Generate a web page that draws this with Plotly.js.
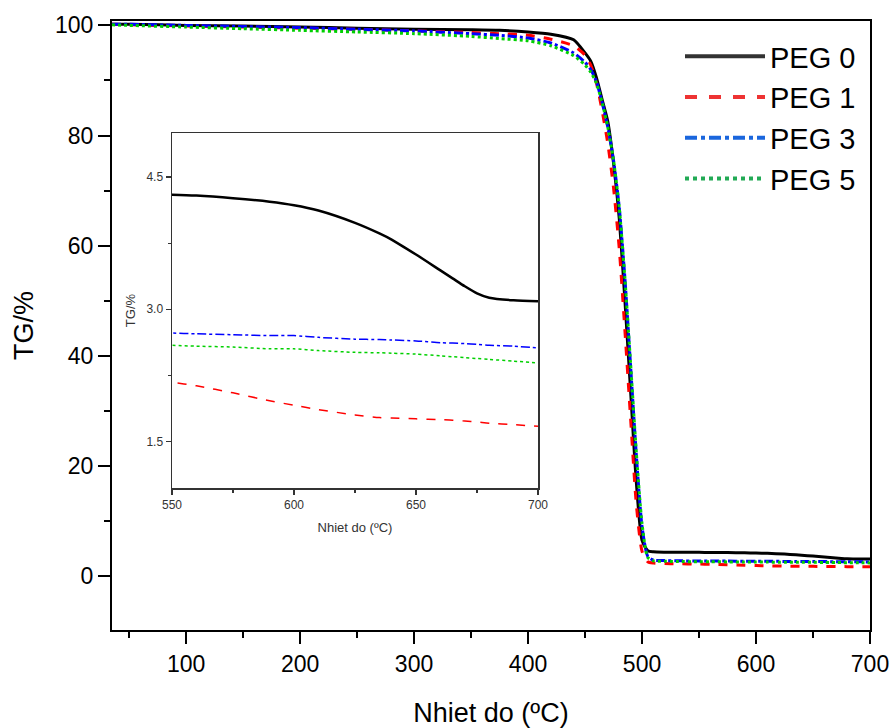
<!DOCTYPE html>
<html>
<head>
<meta charset="utf-8">
<script src="https://cdn.plot.ly/plotly-3.0.1.min.js"></script>
<style>html,body{margin:0;padding:0;background:#fff;}#chart{width:895px;height:728px;}</style>
</head>
<body>
<div id="chart"></div>
<script>
// Temperature grid (°C)
const temp = [35, 50, 100, 150, 200, 250, 300, 350, 375, 400, 420, 440, 450, 455, 460, 465, 470, 475, 480, 485, 490, 495, 500, 505, 510, 520, 530, 550, 560, 575, 590, 600, 610, 625, 635, 640, 650, 660, 665, 670, 675, 680, 690, 700];

// TG (%) for each sample
const peg0 = [100.2, 100.2, 100.0, 99.9, 99.7, 99.5, 99.3, 99.2, 99.1, 98.8, 98.4, 97.4, 95.0, 93.5, 90.5, 86.5, 82.5, 75.0, 65.0, 50.0, 33.5, 17.0, 6.5, 4.6, 4.4, 4.33, 4.31, 4.30, 4.29, 4.26, 4.22, 4.18, 4.12, 3.98, 3.86, 3.79, 3.62, 3.44, 3.35, 3.26, 3.18, 3.13, 3.10, 3.09];
const peg1 = [100.2, 100.1, 99.9, 99.7, 99.5, 99.3, 99.0, 98.7, 98.5, 98.2, 97.5, 96.3, 94.6, 92.8, 89.5, 84.5, 78.5, 70.5, 59.5, 44.5, 28.5, 13.0, 4.5, 2.6, 2.35, 2.27, 2.23, 2.17, 2.13, 2.05, 1.96, 1.91, 1.86, 1.80, 1.77, 1.765, 1.755, 1.745, 1.74, 1.73, 1.72, 1.705, 1.69, 1.67];
const peg3 = [100.2, 100.2, 100.0, 99.8, 99.6, 99.3, 99.0, 98.5, 98.2, 97.7, 96.8, 95.0, 93.3, 92.0, 89.8, 86.0, 81.5, 75.5, 67.0, 54.0, 38.0, 22.0, 9.0, 3.6, 2.9, 2.8, 2.77, 2.73, 2.72, 2.71, 2.70, 2.70, 2.68, 2.66, 2.655, 2.65, 2.64, 2.62, 2.615, 2.61, 2.60, 2.59, 2.58, 2.56];
const peg5 = [100.1, 100.0, 99.7, 99.4, 99.1, 98.8, 98.5, 98.0, 97.6, 97.2, 96.3, 94.5, 92.8, 91.5, 89.5, 86.0, 81.5, 75.5, 67.0, 54.0, 38.5, 22.5, 9.5, 3.4, 2.75, 2.68, 2.64, 2.59, 2.58, 2.57, 2.55, 2.55, 2.53, 2.51, 2.505, 2.50, 2.49, 2.47, 2.46, 2.45, 2.44, 2.43, 2.41, 2.39];

const names = ['PEG 0', 'PEG 1', 'PEG 3', 'PEG 5'];
const series = [peg0, peg1, peg3, peg5];
const colors = ['#000000', '#ff0000', '#0000ff', '#00d000'];
const legendColors = ['#333333', '#ee3333', '#1a66dd', '#22aa55'];
const dashes = ['solid', 'dash', 'dashdot', 'dot'];

// inset tick labels
const insetYTicks = [1.5, 3.0, 4.5];
const insetYLabels = ['1.5', '3.0', '4.5'];

const traces = [];
series.forEach((s, i) => {
  traces.push({
    x: temp, y: s, name: names[i], type: 'scatter', mode: 'lines',
    line: {color: colors[i], width: 3, dash: dashes[i], shape: 'spline', smoothing: 0.6},
    xaxis: 'x', yaxis: 'y', showlegend: false, hoverinfo: 'skip'
  });
});
// legend entries
series.forEach((s, i) => {
  traces.push({
    x: [null], y: [null], name: names[i], type: 'scatter', mode: 'lines',
    line: {color: legendColors[i], width: 4, dash: dashes[i]},
    xaxis: 'x', yaxis: 'y', showlegend: true
  });
});
// inset
series.forEach((s, i) => {
  traces.push({
    x: temp, y: s, name: names[i], type: 'scatter', mode: 'lines',
    line: {color: colors[i], width: i === 0 ? 2.5 : 1.5, dash: dashes[i], shape: 'spline', smoothing: 0.7},
    xaxis: 'x2', yaxis: 'y2', showlegend: false, hoverinfo: 'skip'
  });
});

const W = 895, H = 728;
const mL = 112, mR = 25, mT = 21, mB = 98;
const pw = W - mL - mR, ph = H - mT - mB;
const px = v => (v - mL) / pw;
const py = v => (H - mB - v) / ph;

const layout = {
  width: W, height: H,
  margin: {l: mL, r: mR, t: mT, b: mB},
  paper_bgcolor: '#ffffff', plot_bgcolor: '#ffffff',
  font: {family: 'Arial, Liberation Sans, sans-serif', color: '#000'},
  showlegend: true,
  legend: {
    x: px(680), y: py(31), xanchor: 'left', yanchor: 'top',
    font: {size: 29, color: '#000'}, bgcolor: 'rgba(0,0,0,0)',
    itemwidth: 80, tracegroupgap: 0
  },
  xaxis: {
    domain: [0, 1], range: [35, 700], tickmode: 'linear', tick0: 0, dtick: 100,
    ticks: 'outside', ticklen: 12, tickwidth: 2, tickcolor: '#000',
    minor: {dtick: 50, tick0: 0, ticks: 'outside', ticklen: 6, tickwidth: 2, tickcolor: '#000'},
    showline: true, linewidth: 2, linecolor: '#000', mirror: true,
    showgrid: false, zeroline: false,
    tickfont: {size: 23, color: '#000'},
    title: {text: 'Nhiet do (ºC)', font: {size: 27, color: '#000'}, standoff: 28}
  },
  yaxis: {
    domain: [0, 1], range: [-9.8, 100.8], tickmode: 'linear', tick0: 0, dtick: 20,
    ticks: 'outside', ticklen: 12, tickwidth: 2, tickcolor: '#000',
    minor: {dtick: 10, tick0: 0, ticks: 'outside', ticklen: 6, tickwidth: 2, tickcolor: '#000'},
    showline: true, linewidth: 2, linecolor: '#000', mirror: true,
    showgrid: false, zeroline: false,
    tickfont: {size: 23, color: '#000'},
    title: {text: 'TG/%', font: {size: 27, color: '#000'}, standoff: 14}
  },
  xaxis2: {
    domain: [px(172), px(538)], anchor: 'y2', range: [550, 700],
    tickmode: 'linear', tick0: 550, dtick: 50,
    ticks: 'outside', ticklen: 5, tickwidth: 1.2, tickcolor: '#333',
    minor: {dtick: 25, tick0: 550, ticks: 'outside', ticklen: 3, tickwidth: 1.2, tickcolor: '#333'},
    showline: true, linewidth: 1.5, linecolor: '#333', mirror: true,
    showgrid: false, zeroline: false,
    tickfont: {size: 12, color: '#333'},
    title: {text: 'Nhiet do (ºC)', font: {size: 13, color: '#333'}, standoff: 12}
  },
  yaxis2: {
    domain: [py(488), py(133)], anchor: 'x2', range: [0.97, 5.0],
    tickmode: 'array', tickvals: insetYTicks, ticktext: insetYLabels,
    ticks: 'outside', ticklen: 5, tickwidth: 1.2, tickcolor: '#333',
    minor: {tickmode: 'array', tickvals: [2.25, 3.75], ticks: 'outside', ticklen: 3, tickwidth: 1.2, tickcolor: '#333'},
    showline: true, linewidth: 1.5, linecolor: '#333', mirror: true,
    showgrid: false, zeroline: false,
    tickfont: {size: 12, color: '#333'},
    title: {text: 'TG/%', font: {size: 13, color: '#333'}, standoff: 8}
  }
};

Plotly.newPlot('chart', traces, layout, {displayModeBar: false, staticPlot: true});
</script>
</body>
</html>
